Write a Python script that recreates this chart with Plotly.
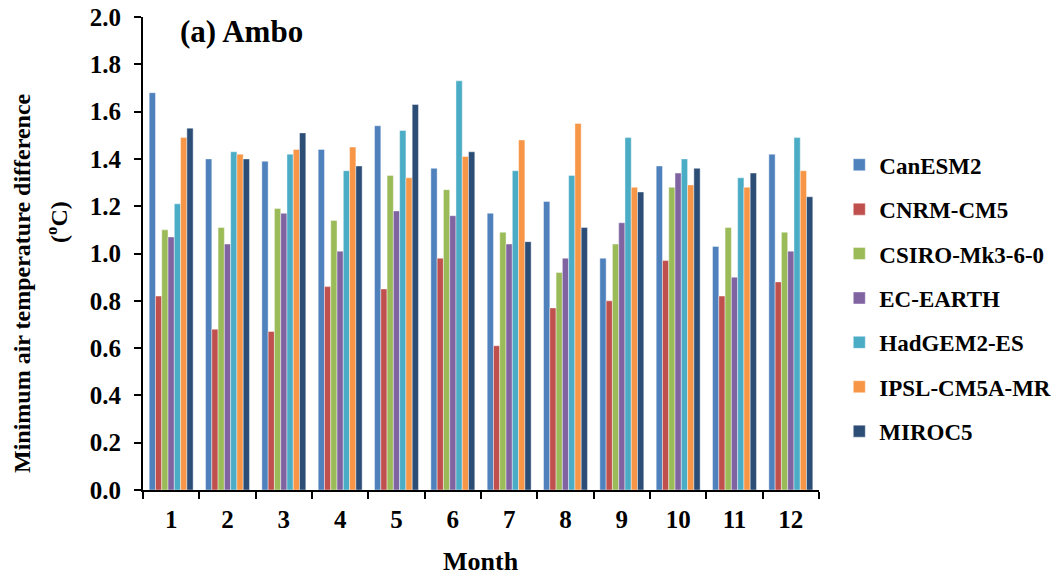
import plotly.graph_objects as go

months = ["1", "2", "3", "4", "5", "6", "7", "8", "9", "10", "11", "12"]

CanESM2 = [1.68, 1.40, 1.39, 1.44, 1.54, 1.36, 1.17, 1.22, 0.98, 1.37, 1.03, 1.42]
CNRM_CM5 = [0.82, 0.68, 0.67, 0.86, 0.85, 0.98, 0.61, 0.77, 0.80, 0.97, 0.82, 0.88]
CSIRO_Mk3_6_0 = [1.10, 1.11, 1.19, 1.14, 1.33, 1.27, 1.09, 0.92, 1.04, 1.28, 1.11, 1.09]
EC_EARTH = [1.07, 1.04, 1.17, 1.01, 1.18, 1.16, 1.04, 0.98, 1.13, 1.34, 0.90, 1.01]
HadGEM2_ES = [1.21, 1.43, 1.42, 1.35, 1.52, 1.73, 1.35, 1.33, 1.49, 1.40, 1.32, 1.49]
IPSL_CM5A_MR = [1.49, 1.42, 1.44, 1.45, 1.32, 1.41, 1.48, 1.55, 1.28, 1.29, 1.28, 1.35]
MIROC5 = [1.53, 1.40, 1.51, 1.37, 1.63, 1.43, 1.05, 1.11, 1.26, 1.36, 1.34, 1.24]

series_names = ["CanESM2", "CNRM-CM5", "CSIRO-Mk3-6-0", "EC-EARTH", "HadGEM2-ES", "IPSL-CM5A-MR", "MIROC5"]
series_values = [CanESM2, CNRM_CM5, CSIRO_Mk3_6_0, EC_EARTH, HadGEM2_ES, IPSL_CM5A_MR, MIROC5]
colors = ["#4F81BD", "#C0504D", "#9BBB59", "#8064A2", "#4BACC6", "#F79646", "#2C4D75"]

y_ticks = [0.0, 0.2, 0.4, 0.6, 0.8, 1.0, 1.2, 1.4, 1.6, 1.8, 2.0]

FONT = "Liberation Serif"

fig = go.Figure()
for i, (name, vals, col) in enumerate(zip(series_names, series_values, colors)):
    fig.add_trace(go.Bar(
        x=months, y=vals, name=name,
        marker=dict(color=col, line=dict(color="rgba(255,255,255,0.7)", width=0.6)),
        legendgroup=name,
    ))

fig.update_layout(
    width=1064, height=578,
    margin=dict(l=143, r=245, t=17, b=88, autoexpand=False),
    paper_bgcolor="white", plot_bgcolor="white",
    barmode="group", bargap=0.22, bargroupgap=0,
    font=dict(family=FONT, color="black", size=18),
    showlegend=True,
    legend=dict(
        x=1.03, y=0.733, xanchor="left", yanchor="top",
        font=dict(family=FONT, size=23, color="black", weight="bold"),
        tracegroupgap=11.5, traceorder="grouped",
        bgcolor="rgba(0,0,0,0)",
    ),
    xaxis=dict(
        type="category", tickson="boundaries",
        ticks="outside", ticklen=7, tickwidth=2, tickcolor="black",
        showline=True, linecolor="black", linewidth=2,
        tickfont=dict(family=FONT, size=25, color="black", weight="bold"),
        ticklabelstandoff=6,
        showgrid=False, zeroline=False,
    ),
    yaxis=dict(
        range=[0, 2.0], tickvals=y_ticks, tickformat=".1f",
        ticks="outside", ticklen=7, tickwidth=2, tickcolor="black",
        showline=True, linecolor="black", linewidth=2,
        tickfont=dict(family=FONT, size=25, color="black", weight="bold"),
        ticklabelstandoff=8,
        showgrid=False, zeroline=False,
    ),
    annotations=[
        dict(text="(a) Ambo", xref="paper", yref="paper", x=(178 - 143) / 676, y=(490 - 31) / 473,
             xanchor="left", yanchor="middle", showarrow=False,
             font=dict(family=FONT, size=31, color="black", weight="bold")),
        dict(text="Minimum air temperature difference", xref="paper", yref="paper",
             x=(22 - 143) / 676, y=(490 - 283) / 473, xanchor="center", yanchor="middle",
             textangle=-90, showarrow=False,
             font=dict(family=FONT, size=24, color="black", weight="bold")),
        dict(text="(<sup>o</sup>C)", xref="paper", yref="paper",
             x=(57 - 143) / 676, y=(490 - 222) / 473, xanchor="center", yanchor="middle",
             textangle=-90, showarrow=False,
             font=dict(family=FONT, size=24, color="black", weight="bold")),
        dict(text="Month", xref="paper", yref="paper",
             x=(481 - 143) / 676, y=(490 - 561) / 473, xanchor="center", yanchor="middle",
             showarrow=False,
             font=dict(family=FONT, size=26, color="black", weight="bold")),
    ],
)

fig.write_html("out.html")
